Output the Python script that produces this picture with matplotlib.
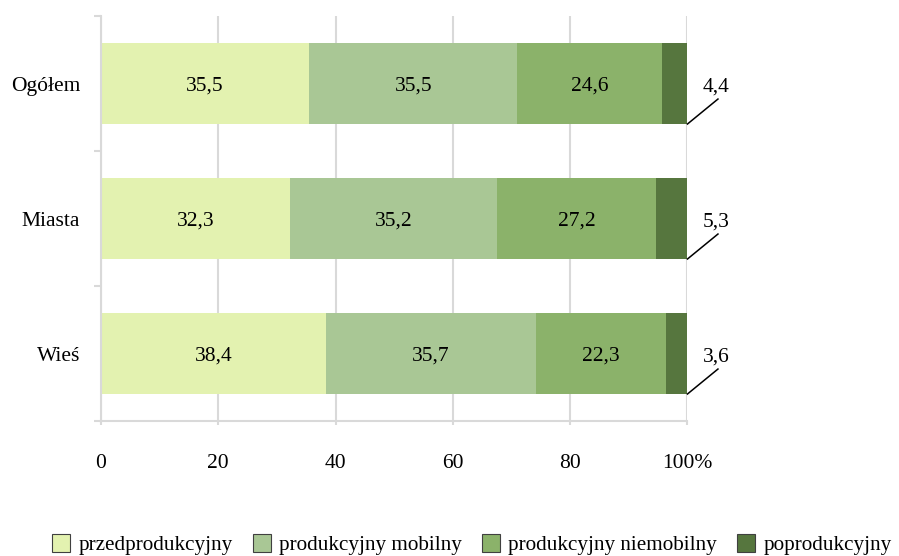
import numpy as np
import matplotlib.pyplot as plt
from matplotlib.patches import Patch

plt.rcParams['font.family'] = ['Liberation Serif', 'DejaVu Serif']

# data
categories = ['Ogółem', 'Miasta', 'Wieś']
series_names = ['przedprodukcyjny', 'produkcyjny mobilny', 'produkcyjny niemobilny', 'poprodukcyjny']
przedprodukcyjny = [35.5, 32.3, 38.4]
prod_mobilny = [35.5, 35.2, 35.7]
prod_niemobilny = [24.6, 27.2, 22.3]
poprodukcyjny = [4.4, 5.3, 3.6]
x_ticks = [0, 20, 40, 60, 80, 100]
x_tick_labels = ['0', '20', '40', '60', '80', '100%']

colors = ['#e3f2b0', '#a9c795', '#8bb26a', '#56763e']
grid_col = '#d9d9d9'
fs = 15.5

fig = plt.figure(figsize=(8.99, 5.56), dpi=100)
ax = fig.add_axes([0.1123, 0.2428, 0.6524, 0.7284])

y = np.arange(len(categories))[::-1]  # Ogółem on top
bar_h = 0.6
series = [przedprodukcyjny, prod_mobilny, prod_niemobilny, poprodukcyjny]
left = np.zeros(len(categories))
for i, vals in enumerate(series):
    vals = np.array(vals)
    ax.barh(y, vals, left=left, height=bar_h, color=colors[i], edgecolor='none', zorder=2)
    if i < 3:
        for yy, l, v in zip(y, left, vals):
            ax.text(l + v / 2, yy, f'{v:.1f}'.replace('.', ','), ha='center',
                    va='center_baseline', fontsize=fs, zorder=3)
    left = left + vals

# small segment labels with leader lines
for yy, tot, v in zip(y, left, poprodukcyjny):
    y0 = yy - bar_h / 2
    ax.plot([tot, tot + 5.2], [y0, y0 + 0.185], color='black', lw=1.1, clip_on=False, zorder=4)
    ax.text(tot + 4.9, y0 + 0.2, f'{v:.1f}'.replace('.', ','), ha='center', va='bottom',
            fontsize=fs)

ax.set_xlim(0, 100)
ax.set_ylim(-0.5, 2.5)
ax.set_xticks(x_ticks)
ax.set_xticklabels(x_tick_labels, fontsize=fs)
ax.set_yticks(y)
ax.set_yticklabels(categories, fontsize=fs, va='center_baseline')
ax.set_yticks([-0.5, 0.5, 1.5, 2.5], minor=True)
ax.tick_params(axis='y', which='major', length=0, pad=15)
ax.tick_params(axis='y', which='minor', length=5, width=1.5, color=grid_col)
ax.tick_params(axis='x', length=3, width=1.5, color=grid_col, pad=21)

ax.grid(axis='x', color=grid_col, lw=1.5, zorder=0)
ax.set_axisbelow(True)
for s in ['top', 'right']:
    ax.spines[s].set_visible(False)
for s in ['left', 'bottom']:
    ax.spines[s].set_color(grid_col)
    ax.spines[s].set_linewidth(1.5)

handles = [Patch(facecolor=c, edgecolor='#404040', linewidth=0.8) for c in colors]
fig.legend(handles, series_names, loc='center', bbox_to_anchor=(0.525, 0.02), ncol=4,
           frameon=False, fontsize=15.2, handlelength=0.85, handleheight=0.9,
           handletextpad=0.4, columnspacing=0.95, borderpad=0.1)

fig.savefig('out.png', dpi=100)
